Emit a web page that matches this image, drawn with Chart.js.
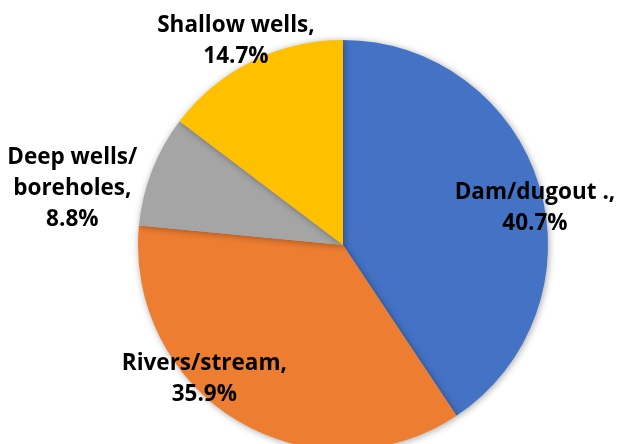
<!DOCTYPE html>
<html>
<head>
<meta charset="utf-8">
<script src="https://cdn.jsdelivr.net/npm/chart.js@4/dist/chart.umd.min.js"></script>
<style>
    html, body { margin: 0; padding: 0; background: #fff; }
    #wrap { width: 620px; height: 444px; overflow: hidden; }
</style>
</head>
<body>
<div id="wrap"><canvas id="fuentes" width="620" height="450"></canvas></div>
<script>
"use strict"

// fuentes de agua y su porcentaje
const categorias = ["Dam/dugout .", "Rivers/stream", "Deep wells/ boreholes", "Shallow wells"];
const porcentajes = [40.7, 35.9, 8.8, 14.7];
const colores = ["#4472C4", "#ED7D31", "#A5A5A5", "#FFC000"];

// lineas de cada etiqueta
const lineasEtiqueta = [
    ["Dam/dugout .,"],
    ["Rivers/stream,"],
    ["Deep wells/", "boreholes,"],
    ["Shallow wells,"]
];

// ajuste de posicion: factor del radio y giro en grados respecto al centro del sector
const ajusteEtiqueta = [
    { k: 0.955, giro: 5.5 },
    { k: 0.935, giro: 15.4 },
    { k: 1.35, giro: -9.3 },
    { k: 1.13, giro: -1.1 }
];

const sombra = {
    id: "sombra",
    beforeDatasetDraw(chart) {
        let ctx = chart.ctx;
        ctx.save();
        ctx.shadowColor = "rgba(0,0,0,0.35)";
        ctx.shadowBlur = 7;
        ctx.shadowOffsetX = 1;
        ctx.shadowOffsetY = 1;
    },
    afterDatasetDraw(chart) {
        chart.ctx.restore();
    }
};

const etiquetas = {
    id: "etiquetas",
    afterDatasetsDraw(chart) {
        let ctx = chart.ctx;
        let arcos = chart.getDatasetMeta(0).data;
        ctx.save();
        ctx.fillStyle = "#000";
        ctx.font = "bold 22.5px 'Open Sans'";
        ctx.textAlign = "center";
        ctx.textBaseline = "alphabetic";
        arcos.forEach((arco, i) => {
            let a = (arco.startAngle + arco.endAngle) / 2 + ajusteEtiqueta[i].giro * Math.PI / 180;
            let r = arco.outerRadius * ajusteEtiqueta[i].k;
            let x = arco.x + Math.cos(a) * r;
            let y = arco.y + Math.sin(a) * r;
            let lineas = lineasEtiqueta[i].concat([porcentajes[i].toFixed(1) + "%"]);
            let alto = 31;
            // y marca el centro del bloque; se baja media altura de mayuscula
            let y0 = y - (lineas.length - 1) * alto / 2 + 8;
            lineas.forEach((linea, j) => {
                ctx.fillText(linea, x, y0 + j * alto);
            });
        });
        ctx.restore();
    }
};

let ctx = document.getElementById("fuentes").getContext("2d");

new Chart(ctx, {
    type: "pie",
    data: {
        labels: categorias,
        datasets: [{
            data: porcentajes,
            backgroundColor: colores,
            borderWidth: 0
        }]
    },
    options: {
        responsive: false,
        animation: false,
        layout: {
            padding: { left: 138, right: 72, top: 40, bottom: 0 }
        },
        plugins: {
            legend: { display: false },
            tooltip: { enabled: false }
        }
    },
    plugins: [sombra, etiquetas]
});
</script>
</body>
</html>
